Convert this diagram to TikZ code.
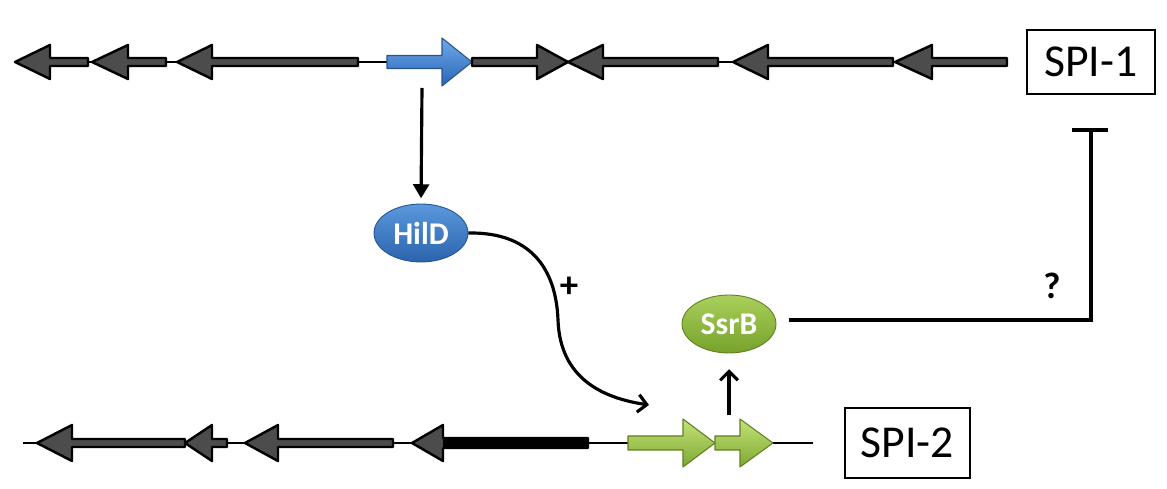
\documentclass[tikz,border=0pt]{standalone}
\usepackage{fontspec}
\setmainfont{Carlito}
\usetikzlibrary{arrows.meta,shapes.geometric}
\definecolor{blueA}{HTML}{6FA8E8}
\definecolor{blueB}{HTML}{2A66B8}
\definecolor{blueD}{HTML}{24558F}
\definecolor{greenA}{HTML}{C3E277}
\definecolor{greenB}{HTML}{7FA832}
\definecolor{greenD}{HTML}{5F8020}
\definecolor{hildA}{HTML}{5B98DD}
\definecolor{hildB}{HTML}{2B64AD}
\definecolor{ssrA}{HTML}{A9D05A}
\definecolor{ssrB}{HTML}{76A22C}
\newcommand\gn[7]{\draw[#7] (#1,{#4-#5}) -- (#2,{#4-#5}) -- (#2,{#4-#6}) -- (#3,#4) -- (#2,{#4+#6}) -- (#2,{#4+#5}) -- (#1,{#4+#5}) -- cycle;}
\tikzset{
  dna/.style={line width=1pt},
  blackgene/.style={fill=black!70, draw=black, line width=1.4pt, line join=round},
  bluegene/.style={top color=blueA, bottom color=blueB, draw=blueD, line width=0.6pt, line join=round},
  greengene/.style={top color=greenA, bottom color=greenB, draw=greenD, line width=0.6pt, line join=round},
  prot/.style={ellipse, minimum width=1.88cm, minimum height=1.16cm, inner sep=0pt, text=white, font=\fontsize{18}{20}\selectfont\bfseries},
  island/.style={draw, line width=1.3pt, inner sep=0pt, font=\fontsize{26}{30}\selectfont},
  conn/.style={line width=1.8pt},
  lbl/.style={font=\fontsize{21}{24}\selectfont\bfseries, inner sep=0pt}
}
\begin{document}
\begin{tikzpicture}[x=0.02cm,y=-0.02cm]
\useasboundingbox (0,0) rectangle (1167,489);
% top DNA
\draw[dna] (15,62) -- (1007,62);
\gn{88}{50}{15}{62}{4}{17}{blackgene}
\gn{166}{128}{92}{62}{4}{17}{blackgene}
\gn{358}{212}{177}{62}{4}{17}{blackgene}
\gn{387}{442}{472}{62}{6.5}{24}{bluegene}
\gn{472}{537}{568}{62}{4}{17}{blackgene}
\gn{718}{603}{568}{62}{4}{17}{blackgene}
\gn{893}{768}{733}{62}{4}{17}{blackgene}
\gn{1007}{932}{895}{62}{4}{17}{blackgene}
% bottom DNA
\draw[dna] (23,443) -- (813,443);
\gn{185}{72}{37}{443}{4}{18}{blackgene}
\gn{227}{212}{185}{443}{4}{18}{blackgene}
\gn{393}{278}{245}{443}{4}{18}{blackgene}
\gn{588}{443}{412}{443}{5}{18}{blackgene}
\fill[black] (443,438) rectangle (588,448);
\gn{628}{683}{715}{443}{7}{24}{greengene}
\gn{715}{740}{773}{443}{7}{24}{greengene}
% nodes
\node[prot, top color=hildA, bottom color=hildB, draw=blueD, line width=0.5pt] (hild) at (421,233) {HilD};
\node[prot, top color=ssrA, bottom color=ssrB, draw=greenD, line width=0.5pt] (ssrb) at (729,324) {SsrB};
\node[island, minimum width=2.56cm, minimum height=1.28cm] (spi1) at (1091,62) {SPI-1};
\node[island, minimum width=2.5cm, minimum height=1.4cm] (spi2) at (907.5,443) {SPI-2};
\coordinate (bluebot) at (422,88);
\coordinate (greenin) at (649,405);
\coordinate (greentop) at (729,415);
\coordinate (corner) at (1091,320);
\coordinate (bar) at (1091,130);
% connectors
\draw[conn, -{Triangle[length=8pt,width=9pt]}, shorten >=3pt] (bluebot) -- (hild.north);
\draw[conn, -{Straight Barb[length=5pt,width=10pt]}] (hild.east) .. controls (530,232) and (556,268) .. (558,320) .. controls (560,378) and (602,398) .. (greenin);
\draw[conn, -{Straight Barb[length=5pt,width=10pt]}, shorten >=9pt] (greentop) -- (ssrb.south);
\draw[conn, shorten <=7pt] (ssrb.east |- corner) -- (corner) -- (bar);
\draw[conn] (1072,130) -- (1108,130);
\node[lbl] (plus) at (569,287) {+};
\node[lbl] (q) at (1052,286) {?};
\end{tikzpicture}
\end{document}
